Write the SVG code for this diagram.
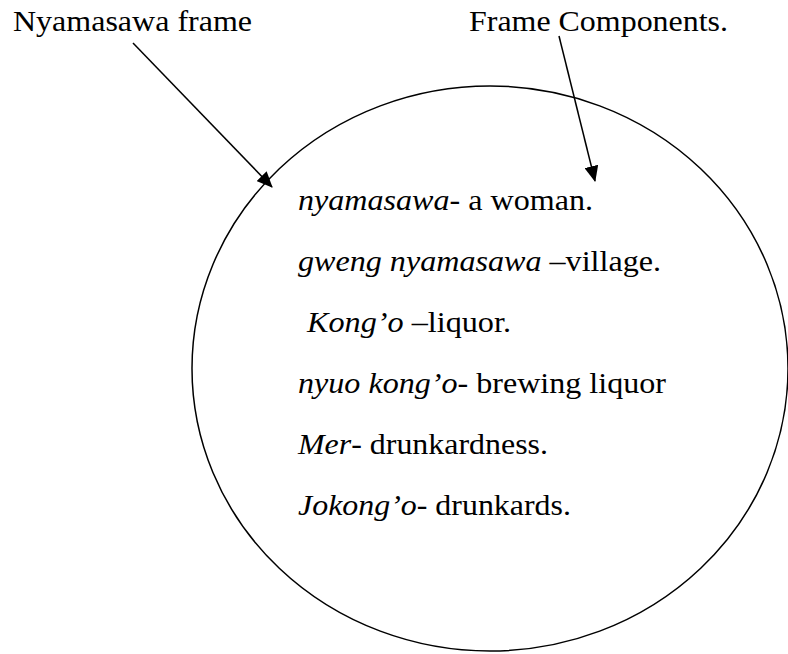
<svg xmlns="http://www.w3.org/2000/svg" width="788" height="654" viewBox="0 0 788 654">
  <style>
    text { font-family: "Liberation Serif", "Times New Roman", serif; font-size: 30px; fill: #000; }
    .it { font-style: italic; }
    .conn { stroke: #000; stroke-width: 1.5; fill: none; }
    .frame { stroke: #000; stroke-width: 1.5; fill: none; }
  </style>
  <defs>
    <marker id="arrow" markerUnits="userSpaceOnUse" markerWidth="16" markerHeight="14" refX="15" refY="7" orient="auto">
      <path d="M0,0 L16,7 L0,14 Z" fill="#000"/>
    </marker>
  </defs>
  <rect width="788" height="654" fill="#fff"/>

  <!-- frame boundary -->
  <g id="frame">
    <ellipse class="frame" cx="490" cy="368.5" rx="298" ry="282.5"/>
  </g>

  <!-- labels -->
  <g id="label-frame">
    <text x="13" y="31" textLength="239" lengthAdjust="spacingAndGlyphs">Nyamasawa frame</text>
  </g>
  <g id="label-components">
    <text x="469" y="31" textLength="259" lengthAdjust="spacingAndGlyphs">Frame Components.</text>
  </g>

  <!-- frame components -->
  <g id="components">
    <text x="298" y="210" textLength="295" lengthAdjust="spacingAndGlyphs"><tspan class="it">nyamasawa</tspan>- a woman.</text>
    <text x="298" y="271" textLength="363" lengthAdjust="spacingAndGlyphs"><tspan class="it">gweng nyamasawa</tspan> –village.</text>
    <text x="307" y="332" textLength="204" lengthAdjust="spacingAndGlyphs"><tspan class="it">Kong’o</tspan> –liquor.</text>
    <text x="298" y="393" textLength="368" lengthAdjust="spacingAndGlyphs"><tspan class="it">nyuo kong’o</tspan>- brewing liquor</text>
    <text x="298" y="454" textLength="250" lengthAdjust="spacingAndGlyphs"><tspan class="it">Mer</tspan>- drunkardness.</text>
    <text x="298" y="515" textLength="273" lengthAdjust="spacingAndGlyphs"><tspan class="it">Jokong’o</tspan>- drunkards.</text>
  </g>

  <!-- connectors -->
  <g id="connectors">
    <line class="conn" x1="133" y1="43" x2="272" y2="187" marker-end="url(#arrow)"/>
    <line class="conn" x1="559" y1="36" x2="595" y2="181" marker-end="url(#arrow)"/>
  </g>
</svg>
